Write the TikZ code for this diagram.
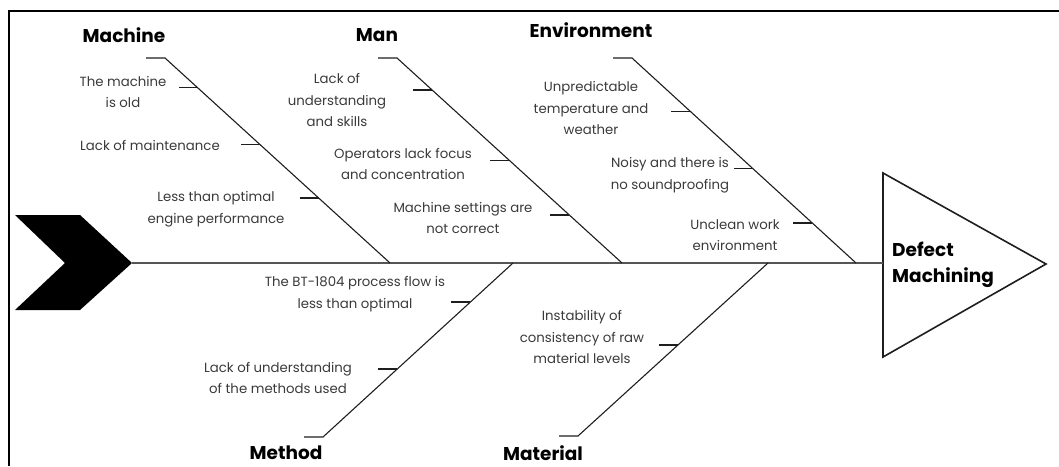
\documentclass[tikz,border=0pt]{standalone}
\usepackage{fontspec}
\setmainfont{Poppins}
\usepackage{tikz}
\usetikzlibrary{calc}
\definecolor{ink}{HTML}{1E1E1E}
\definecolor{soft}{HTML}{3A3A3A}
\definecolor{spine}{HTML}{555555}
\newcommand{\CauseFont}{\fontsize{13.3}{21.5}\selectfont}
\newcommand{\HeadFont}{\fontsize{18.5}{26}\selectfont\bfseries}

\begin{document}
\begin{tikzpicture}[x=1pt,y=-1pt,
    bone/.style={ink,line width=1.1pt},
    cause/.style={soft,align=center,font=\CauseFont,inner sep=0pt},
    group/.style={black,font=\HeadFont,inner sep=0pt}]
  \useasboundingbox (0,0) rectangle (1059,466);
  \draw[black,line width=1.6pt] (9,466) -- (9,11) -- (1059,11);
  \fill[black] (15,215) -- (80,215) -- (132,263) -- (80,310) -- (15,310) -- (65,263) -- cycle;
  \coordinate (tail) at (132,263);
  \coordinate (effect) at (883,263);
  \draw[ink,line width=1.6pt] (883,173) -- (1046,264) -- (883,357) -- cycle;
  \draw[spine,line width=1.5pt] (tail) -- (effect);
  \foreach \n/\x/\y/\s in {mach/165/58/390,man/397/58/622,env/632/58/856,meth/323/437/513,mat/578/436/768}{
    \coordinate (\n A) at (\x,\y);
    \coordinate (\n B) at (\s,263);
    \draw[bone] (\n B) -- (\n A) -- ++(-19,0);
  }
  \foreach \n/\f in {mach/0.146,mach/0.424,mach/0.683,man/0.156,man/0.498,man/0.766,env/0.259,env/0.541,env/0.805,meth/0.776,meth/0.391,mat/0.526}
    \draw[bone] ($(\n A)!\f!(\n B)$) -- ++(-19,0);
  \node[group] (machHead) at (124,35) {Machine};
  \node[group] (manHead) at (377,35) {Man};
  \node[group] (envHead) at (591,30) {Environment};
  \node[group] (methHead) at (286,453) {Method};
  \node[group] (matHead) at (543,453) {Material};
  \node[group,align=left,anchor=west] (defect) at (892,265) {Defect\\Machining};
  \node[cause] (old) at (123,92) {The machine\\is old};
  \node[cause] (maint) at (150,145) {Lack of maintenance};
  \node[cause] (engine) at (216,209) {Less than optimal\\engine performance};
  \node[cause] (skills) at (337,100) {Lack of\\understanding\\and skills};
  \node[cause] (focus) at (403,164) {Operators lack focus\\and concentration};
  \node[cause] (settings) at (463,218) {Machine settings are\\not correct};
  \node[cause] (weather) at (591,108) {Unpredictable\\temperature and\\weather};
  \node[cause] (noise) at (670,175) {Noisy and there is\\no soundproofing};
  \node[cause] (unclean) at (735,235) {Unclean work\\environment};
  \node[cause] (flow) at (355,294) {The BT-1804 process flow is\\less than optimal};
  \node[cause] (methods) at (278,378) {Lack of understanding\\of the methods used};
  \node[cause] (raw) at (582,337) {Instability of\\consistency of raw\\material levels};
\end{tikzpicture}
\end{document}
